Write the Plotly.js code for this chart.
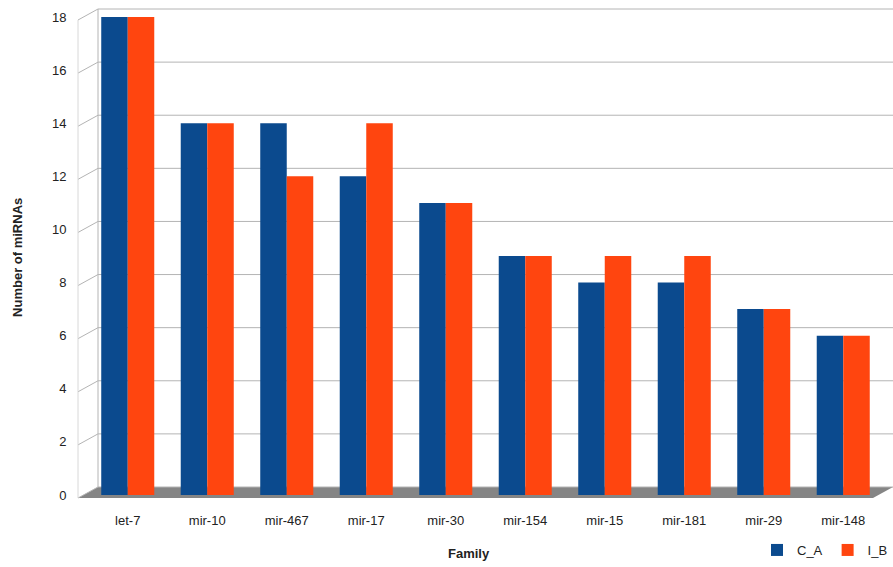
<!DOCTYPE html>
<html>
<head>
<meta charset="utf-8">
<script src="https://cdn.plot.ly/plotly-3.0.1.min.js"></script>
<style>html,body{margin:0;padding:0;background:#fff;}#chart{width:893px;height:567px;}</style>
</head>
<body>
<div id="chart"></div>
<script>
const families = ["let-7","mir-10","mir-467","mir-17","mir-30","mir-154","mir-15","mir-181","mir-29","mir-148"];
const seriesCA = [18,14,14,12,11,9,8,8,7,6];
const seriesIB = [18,14,12,14,11,9,9,9,7,6];
const yTicks = [0,2,4,6,8,10,12,14,16,18];
const yMax = 18;

const blue = "#0b4a8e", orange = "#ff450f", grid = "#b4b4b4";

const traces = [
  {type:"bar", name:"C_A", x:families, y:seriesCA, marker:{color:blue, line:{width:0}}},
  {type:"bar", name:"I_B", x:families, y:seriesIB, marker:{color:orange, line:{width:0}}}
];

// 3D walls: front offset (-10px, 3px down), back offset (+10px, 8px up)
const shapes = [];
shapes.push({type:"path", layer:"below", xref:"paper", yref:"paper", xsizemode:"pixel", ysizemode:"pixel",
  xanchor:0, yanchor:0, path:"M-10,-3 L785,-3 L805,8 L10,8 Z", fillcolor:"#858585", line:{width:0}});
yTicks.forEach(v => {
  shapes.push({type:"line", layer:"below", xref:"paper", yref:"paper", ysizemode:"pixel", yanchor:v / yMax,
    x0:10/795, x1:1 + 10/795, y0:8, y1:8, line:{color:grid, width:1}});
  shapes.push({type:"line", layer:"below", xref:"paper", yref:"paper", xsizemode:"pixel", ysizemode:"pixel",
    xanchor:0, yanchor:v / yMax, x0:-10, x1:10, y0:-3, y1:8, line:{color:grid, width:1}});
});
shapes.push({type:"line", layer:"below", xref:"paper", yref:"paper", xsizemode:"pixel", ysizemode:"pixel",
  xanchor:0, yanchor:0, x0:10, x1:10, y0:8, y1:486, line:{color:grid, width:1}});
shapes.push({type:"line", layer:"below", xref:"paper", yref:"paper", xsizemode:"pixel", ysizemode:"pixel",
  xanchor:0, yanchor:0, x0:-10, x1:-10, y0:-3, y1:475, line:{color:"#d8d8d8", width:1}});

const annotations = [
  {text:"<b>Family</b>", xref:"paper", yref:"paper", x:0.479, y:0, yshift:-58, xanchor:"center", yanchor:"middle",
    showarrow:false, font:{size:13, color:"#222"}},
  {text:"<b>Number of miRNAs</b>", xref:"paper", yref:"paper", x:0, xshift:-70, y:0.496, textangle:-90,
    xanchor:"center", yanchor:"middle", showarrow:false, font:{size:13, color:"#222"}}
];

const layout = {
  width:893, height:567,
  margin:{l:88, r:10, t:17, b:72, autoexpand:false},
  paper_bgcolor:"#fff", plot_bgcolor:"rgba(0,0,0,0)",
  font:{family:"Liberation Sans, Arial, sans-serif", size:13, color:"#222"},
  barmode:"group", bargap:0.333, bargroupgap:0,
  xaxis:{showgrid:false, zeroline:false, showline:false, automargin:false, ticks:"outside", ticklen:13, tickcolor:"rgba(0,0,0,0)",
    tickfont:{size:13, color:"#222"}},
  yaxis:{range:[0,yMax], tickvals:yTicks, showgrid:false, zeroline:false, showline:false, automargin:false,
    ticks:"outside", ticklen:18, tickcolor:"rgba(0,0,0,0)", tickfont:{size:13, color:"#222"}},
  legend:{orientation:"h", x:1, xanchor:"right", xref:"container", y:17/567, yref:"container", yanchor:"middle",
    font:{size:13, color:"#222"}, itemwidth:30, tracegroupgap:0},
  showlegend:true,
  shapes:shapes,
  annotations:annotations
};
Plotly.newPlot("chart", traces, layout, {displayModeBar:false, staticPlot:true});
</script>
</body>
</html>
